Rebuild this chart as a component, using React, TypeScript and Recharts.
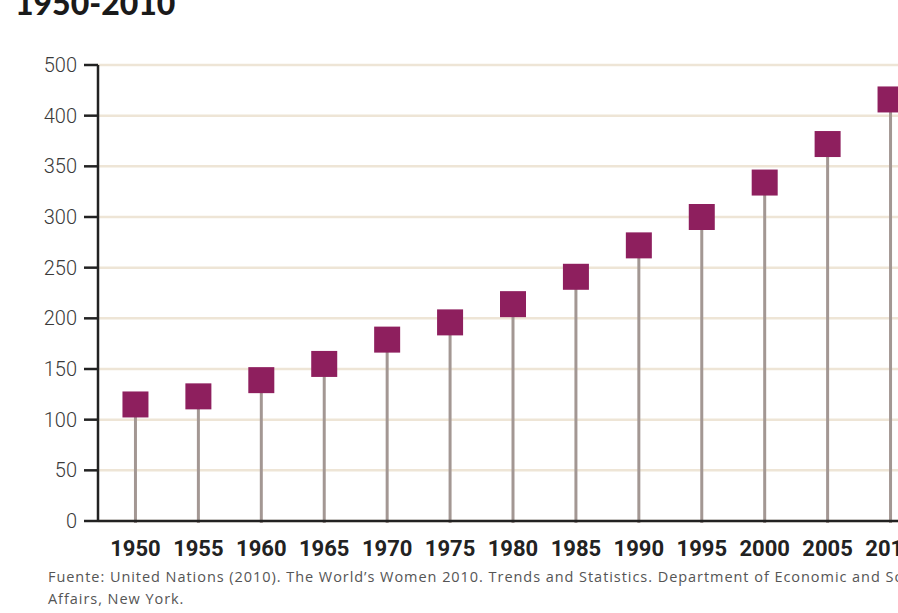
import { BarChart, Bar, XAxis, YAxis, CartesianGrid } from 'recharts';

const years = ['1950', '1955', '1960', '1965', '1970', '1975', '1980', '1985', '1990', '1995', '2000', '2005', '2010'];
const values = [115, 123, 139, 155, 179, 196, 214, 241, 272, 300, 334, 372, 416];
const yTicks = [0, 50, 100, 150, 200, 250, 300, 350, 400, 450];
const yTickLabels = ['0', '50', '100', '150', '200', '250', '300', '350', '400', '500'];

const chartData = years.map((year, i) => ({ year, value: values[i] }));

const PURPLE = '#8e1f5e';
const STEM = '#a39793';

function Lollipop(props: any) {
  const { x, y, width, height } = props;
  const cx = x + width / 2;
  const size = 26;
  return (
    <g>
      <line x1={cx} x2={cx} y1={y + height + 2} y2={y} stroke={STEM} strokeWidth={3} />
      <rect x={cx - size / 2} y={y - size / 2} width={size} height={size} fill={PURPLE} />
    </g>
  );
}

export default function App() {
  return (
    <div
      style={{
        position: 'fixed',
        left: 0,
        top: 0,
        width: 898,
        height: 613,
        overflow: 'hidden',
        background: '#fff',
      }}
    >
      <svg width={898} height={40} style={{ position: 'absolute', left: 0, top: 0 }}>
        <text x={15} y={15} fontFamily="Lato, sans-serif" fontWeight={900} fontSize={32} fill="#1a1a1a">
          1950-2010
        </text>
      </svg>

      <div style={{ position: 'absolute', left: 0, top: 0 }}>
        <BarChart
          width={942}
          height={613}
          data={chartData}
          margin={{ top: 65, right: 14, left: 0, bottom: 52 }}
          barCategoryGap="60%"
        >
          <CartesianGrid vertical={false} stroke="#eee5d6" strokeWidth={2.5} />
          <XAxis
            dataKey="year"
            height={40}
            padding={{ left: 6, right: 6 }}
            tickLine={false}
            tickSize={0}
            tickMargin={19}
            axisLine={{ stroke: '#222', strokeWidth: 2.5 }}
            tick={{ fontFamily: 'Roboto, sans-serif', fontWeight: 700, fontSize: 22, fill: '#222' }}
            interval={0}
          />
          <YAxis
            width={98}
            domain={[0, 450]}
            ticks={yTicks}
            interval={0}
            tickFormatter={(v: number) => yTickLabels[yTicks.indexOf(v)]}
            tickSize={14}
            tickMargin={7}
            tickLine={{ stroke: '#222', strokeWidth: 2.5 }}
            axisLine={{ stroke: '#222', strokeWidth: 2.5 }}
            tick={{ fontFamily: 'Roboto, sans-serif', fontWeight: 300, fontSize: 20, fill: '#3a3a3a' }}
          />
          <Bar dataKey="value" shape={Lollipop} isAnimationActive={false} />
        </BarChart>
      </div>

      <div
        style={{
          position: 'absolute',
          left: 48,
          top: 566,
          width: 900,
          fontFamily: '"Open Sans", sans-serif',
          fontSize: 14.5,
          lineHeight: '22px',
          color: '#555',
          letterSpacing: 0.95,
          whiteSpace: 'nowrap',
        }}
      >
        <div>Fuente: United Nations (2010). The World’s Women 2010. Trends and Statistics. Department of Economic and Social</div>
        <div>Affairs, New York.</div>
      </div>
    </div>
  );
}
